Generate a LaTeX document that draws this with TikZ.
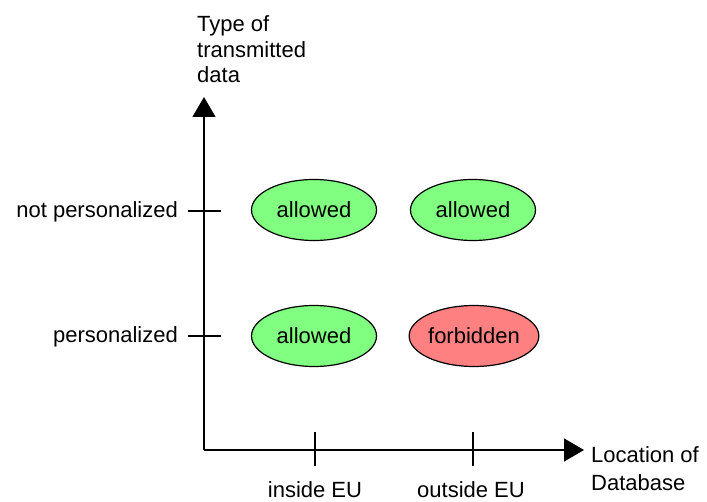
\documentclass[tikz,border=0pt]{standalone}
\usepackage{fontspec}
\setmainfont{Liberation Sans}
\usetikzlibrary{shapes.geometric,arrows.meta}
\definecolor{okgreen}{HTML}{80FF80}
\definecolor{nored}{HTML}{FF8080}
\begin{document}
\begin{tikzpicture}[x=1pt,y=-1pt,
  every node/.style={font=\fontsize{22}{26}\selectfont, inner sep=0pt},
  cell/.style={ellipse, draw=black, line width=1.2pt, minimum width=125pt, minimum height=61pt},
  yes/.style={cell, fill=okgreen},
  no/.style={cell, fill=nored},
  axis/.style={line width=1.3pt, -{Triangle[length=20pt,width=23pt]}},
  tick/.style={line width=1.3pt}]
\useasboundingbox (0,0) rectangle (707,502);
% axes
\coordinate (O) at (204,450);
\coordinate (Ytop) at (204,97);
\coordinate (Xend) at (584,450);
\draw[axis] (O) -- (Ytop);
\draw[axis] (O) -- (Xend);
% ticks on y axis
\coordinate (ta1) at (188,211); \coordinate (ta2) at (221,211);
\coordinate (tb1) at (188,336); \coordinate (tb2) at (221,336);
\draw[tick] (ta1) -- (ta2);
\draw[tick] (tb1) -- (tb2);
% ticks on x axis
\coordinate (tc1) at (315,432); \coordinate (tc2) at (315,466);
\coordinate (td1) at (473,432); \coordinate (td2) at (473,466);
\draw[tick] (tc1) -- (tc2);
\draw[tick] (td1) -- (td2);
% labels
\node[anchor=base west, align=left, font=\fontsize{22}{25.5}\selectfont] (ylab) at (197,83) {Type of\\transmitted\\data};
\node[anchor=base east] (np) at (178,218) {not personalized};
\node[anchor=base east] (p) at (178,343) {personalized};
\node[anchor=base] (in) at (315,497) {inside EU};
\node[anchor=base] (out) at (471,497) {outside EU};
\node[anchor=base west, align=left, font=\fontsize{22}{28}\selectfont] (xlab) at (591,490) {Location of\\Database};
% cells
\node[yes] (a1) at (314,210) {allowed};
\node[yes] (a2) at (473,210) {allowed};
\node[yes] (a3) at (314,336) {allowed};
\node[no] (f1) at (474,336) {forbidden};
\end{tikzpicture}
\end{document}
